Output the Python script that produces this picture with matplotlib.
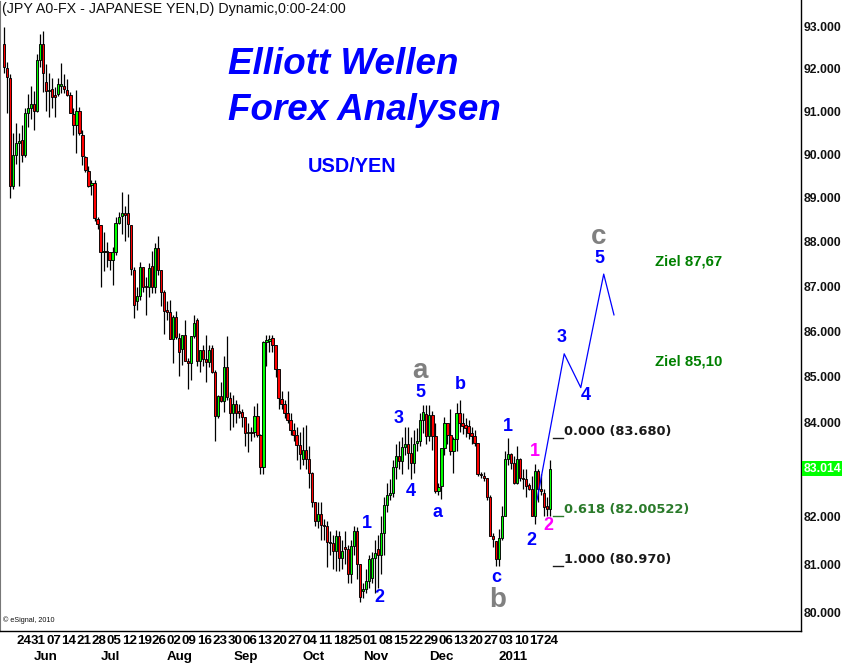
import numpy as np
import matplotlib
matplotlib.use('Agg')
import matplotlib.pyplot as plt
from matplotlib.transforms import blended_transform_factory

# ---------------- data (USD/JPY daily) ----------------
opens = [92.58, 92.02, 91.78, 89.26, 89.99, 90.27, 90.32, 89.99, 90.95, 91.07,
         91.16, 91.01, 92.21, 92.58, 91.69, 91.47, 91.52, 91.39, 91.40, 91.60,
         91.60, 91.51, 91.39, 90.93, 90.69, 91.00, 90.45, 89.94, 89.62, 89.30,
         89.34, 88.51, 88.38, 87.76, 87.78, 87.76, 87.58, 87.76, 88.43, 88.59,
         88.64, 88.66, 88.38, 87.36, 86.66, 86.78, 87.42, 87.01, 86.97, 87.45,
         86.97, 87.85, 87.36, 86.86, 86.46, 86.42, 85.83, 86.32, 85.85, 85.60,
         85.92, 85.35, 85.29, 85.89, 86.25, 85.35, 85.58, 85.38, 85.32, 85.62,
         85.11, 84.14, 84.58, 84.47, 85.20, 84.53, 84.21, 84.40, 84.25, 84.22,
         84.12, 83.77, 83.80, 83.80, 84.14, 83.74, 83.04, 85.76, 85.78, 85.85,
         85.70, 85.16, 84.51, 84.40, 84.21, 84.05, 83.85, 83.74, 83.51, 83.21,
         83.41, 83.21, 82.93, 82.30, 81.90, 82.06, 81.82, 81.80, 81.47, 81.45,
         81.28, 81.59, 81.12, 81.35, 81.31, 80.79, 81.38, 81.69, 81.00, 80.44,
         80.48, 80.65, 80.72, 81.12, 81.31, 81.19, 81.66, 82.25, 82.46, 82.50,
         83.05, 83.28, 83.17, 83.47, 83.53, 83.34, 83.14, 83.56, 83.60, 84.05,
         84.19, 83.71, 84.17, 83.71, 82.54, 82.65, 83.45, 83.99, 83.74, 83.40,
         83.64, 84.21, 83.99, 83.95, 83.92, 83.78, 83.71, 83.56, 82.90, 82.86,
         82.82, 82.40, 81.59, 81.49, 81.10, 81.54, 82.01, 83.22, 83.32, 83.14,
         82.71, 83.21, 82.82, 82.79, 82.66, 82.58, 82.01, 82.96, 82.58, 82.50,
         82.22, 82.16]
highs = [92.99, 92.15, 91.87, 90.50, 90.72, 90.50, 90.67, 91.08, 91.40, 91.60,
         91.47, 92.36, 92.82, 92.90, 92.11, 91.90, 91.79, 91.56, 91.77, 92.13,
         91.88, 91.75, 91.44, 91.07, 91.49, 91.10, 90.56, 89.97, 89.72, 89.40,
         89.40, 88.55, 88.38, 88.22, 87.99, 87.76, 87.88, 88.55, 88.67, 89.14,
         88.82, 89.09, 88.38, 87.42, 86.98, 87.55, 87.42, 87.21, 87.51, 87.80,
         87.98, 88.12, 87.36, 86.91, 86.66, 86.69, 86.36, 86.45, 85.96, 85.92,
         86.25, 85.40, 85.89, 86.36, 86.29, 85.58, 85.69, 85.92, 85.70, 85.70,
         85.15, 84.60, 84.88, 85.46, 85.90, 84.66, 84.60, 84.50, 84.40, 84.30,
         84.12, 84.00, 83.90, 84.36, 84.42, 83.75, 85.78, 85.92, 85.92, 85.92,
         85.70, 85.16, 84.68, 84.50, 84.68, 84.20, 84.00, 83.90, 83.80, 83.90,
         83.95, 83.50, 82.95, 82.30, 82.30, 82.30, 81.95, 81.90, 81.70, 81.60,
         81.72, 81.70, 81.50, 81.70, 81.40, 81.50, 81.80, 81.78, 81.00, 80.60,
         80.90, 81.20, 81.25, 81.50, 81.60, 82.00, 82.40, 82.70, 82.80, 83.20,
         83.55, 83.60, 83.70, 83.90, 83.90, 83.70, 83.85, 83.89, 84.21, 84.38,
         84.38, 84.38, 84.25, 83.99, 82.70, 83.45, 84.13, 84.00, 84.30, 83.70,
         84.42, 84.49, 84.20, 84.10, 84.05, 83.90, 83.85, 83.56, 82.95, 82.95,
         82.82, 82.45, 81.65, 81.49, 81.73, 82.22, 83.39, 83.67, 83.35, 83.28,
         83.49, 83.25, 83.00, 83.00, 82.70, 82.86, 83.11, 83.00, 82.90, 82.58,
         82.40, 83.20]
lows = [91.91, 90.96, 88.99, 89.20, 89.77, 89.26, 89.82, 89.94, 90.63, 90.83,
        90.56, 90.98, 92.03, 91.44, 91.00, 90.87, 91.07, 90.87, 91.36, 91.42,
        91.42, 91.36, 90.95, 90.44, 90.02, 90.44, 89.75, 89.60, 89.25, 89.07,
        88.48, 88.28, 86.97, 87.35, 87.44, 87.36, 87.02, 87.70, 88.40, 88.17,
        88.02, 88.10, 87.25, 86.29, 86.47, 86.69, 86.87, 86.36, 86.76, 86.84,
        86.84, 87.25, 86.56, 85.94, 86.25, 85.83, 85.30, 85.83, 85.02, 85.26,
        85.35, 84.74, 84.93, 85.85, 85.23, 85.10, 85.24, 84.89, 85.20, 85.07,
        83.60, 84.10, 84.45, 84.24, 84.50, 83.84, 83.90, 84.00, 84.10, 83.90,
        83.50, 83.36, 83.60, 83.70, 83.70, 82.90, 82.90, 85.23, 85.53, 85.53,
        85.00, 84.29, 84.29, 84.10, 84.00, 83.74, 83.60, 83.20, 83.00, 83.10,
        83.00, 82.60, 82.20, 81.80, 81.75, 81.50, 81.50, 80.95, 81.20, 80.90,
        80.85, 80.85, 80.90, 81.00, 80.60, 80.60, 81.20, 80.70, 80.22, 80.30,
        80.40, 80.50, 80.60, 80.40, 80.50, 80.80, 81.20, 82.10, 82.35, 82.40,
        82.80, 83.00, 82.90, 83.30, 83.00, 82.80, 82.93, 83.39, 83.50, 83.78,
        83.53, 83.60, 83.41, 82.50, 82.45, 82.36, 83.30, 83.55, 83.30, 82.93,
        83.40, 83.80, 83.75, 83.70, 83.64, 83.55, 83.50, 82.85, 82.82, 82.75,
        82.35, 81.59, 81.35, 80.97, 80.97, 81.50, 82.00, 83.10, 83.00, 82.68,
        82.68, 82.75, 82.58, 82.40, 82.55, 82.01, 81.84, 82.30, 82.45, 82.01,
        82.01, 82.01]
closes = [92.03, 91.80, 89.26, 89.99, 90.27, 90.30, 89.99, 90.95, 91.07, 91.16,
          91.01, 92.21, 92.58, 91.90, 91.47, 91.51, 91.34, 91.34, 91.63, 91.63,
          91.52, 91.39, 90.95, 90.69, 91.00, 90.50, 89.95, 89.63, 89.26, 89.34,
          88.54, 88.40, 87.76, 87.78, 87.76, 87.58, 87.76, 88.43, 88.55, 88.64,
          88.61, 88.40, 87.38, 86.57, 86.77, 87.42, 86.97, 86.97, 87.40, 86.97,
          87.85, 87.36, 86.87, 86.45, 86.42, 85.83, 86.32, 85.87, 85.53, 85.92,
          85.35, 85.29, 85.89, 86.17, 85.35, 85.58, 85.38, 85.32, 85.58, 85.11,
          84.14, 84.58, 84.47, 85.20, 84.55, 84.21, 84.40, 84.21, 84.20, 84.12,
          83.77, 83.80, 83.78, 84.14, 83.74, 83.04, 85.76, 85.80, 85.83, 85.70,
          85.17, 84.53, 84.40, 84.21, 84.05, 83.84, 83.74, 83.51, 83.32, 83.41,
          83.21, 82.93, 82.30, 81.90, 82.06, 81.82, 81.80, 81.47, 81.45, 81.28,
          81.59, 81.12, 81.28, 81.31, 80.79, 81.38, 81.69, 81.00, 80.31, 80.48,
          80.65, 81.10, 81.12, 81.24, 81.19, 81.66, 82.25, 82.46, 82.50, 83.05,
          83.28, 83.17, 83.47, 83.53, 83.34, 83.14, 83.53, 83.60, 84.05, 84.22,
          83.71, 84.17, 83.71, 82.54, 82.63, 83.45, 83.99, 83.74, 83.40, 83.64,
          84.21, 83.99, 83.92, 83.88, 83.78, 83.71, 83.56, 82.90, 82.88, 82.82,
          82.40, 81.59, 81.52, 81.10, 81.54, 82.01, 83.22, 83.32, 83.14, 82.71,
          83.21, 82.82, 82.79, 82.65, 82.58, 82.01, 82.96, 82.58, 82.54, 82.19,
          82.16, 83.01]

week_labels = ["24", "31", "07", "14", "21", "28", "05", "12", "19", "26", "02", "09",
               "16", "23", "30", "06", "13", "20", "27", "04", "11", "18", "25", "01",
               "08", "15", "22", "29", "06", "13", "20", "27", "03", "10", "17", "24"]
week_index = [4 + 5 * k for k in range(len(week_labels))]
month_labels = ["Jun", "Jul", "Aug", "Sep", "Oct", "Nov", "Dec", "2011"]
month_index = [10, 32, 54, 76, 99, 119, 141, 164]
price_ticks = [80, 81, 82, 84, 85, 86, 87, 88, 89, 90, 91, 92, 93]
last_price = 83.014

# projected Elliott path
proj_x = [176.7, 185.7, 191.2, 198.8, 202.2]
proj_y = [82.35, 85.5, 84.76, 87.27, 86.36]

fib_levels = [83.680, 82.00522, 80.970]
fib_texts = ["0.000 (83.680)", "0.618 (82.00522)", "1.000 (80.970)"]
fib_colors = ["#1a1a1a", "#2a7a2a", "#1a1a1a"]

# wave labels: (text, x index, price, color, size)
wave_labels = [
    ("1", 120.3, 81.85, "#0000FF", 13), ("2", 124.3, 80.30, "#0000FF", 13),
    ("3", 130.9, 84.09, "#0000FF", 13), ("4", 134.9, 82.53, "#0000FF", 13),
    ("5", 138.2, 84.65, "#0000FF", 13), ("a", 137.9, 85.13, "#808080", 20),
    ("a", 143.8, 82.09, "#0000FF", 13), ("b", 151.1, 84.83, "#0000FF", 13),
    ("1", 167.1, 83.92, "#0000FF", 13), ("2", 174.7, 81.49, "#0000FF", 13),
    ("c", 163.1, 80.73, "#0000FF", 13), ("b", 163.7, 80.26, "#808080", 20),
    ("1", 176.0, 83.38, "#FF00FF", 13), ("2", 180.3, 81.81, "#FF00FF", 13),
    ("3", 185.0, 85.86, "#0000FF", 13), ("4", 192.9, 84.58, "#0000FF", 13),
    ("5", 197.5, 87.63, "#0000FF", 13), ("c", 197.2, 88.10, "#808080", 20),
]

# ---------------- figure ----------------
W, H = 842, 664
fig = plt.figure(figsize=(W / 100, H / 100), dpi=100)
fig.patch.set_facecolor("white")
ax = fig.add_axes([0, (H - 631) / H, 801 / W, 631 / H])
ax.set_facecolor("white")

o = np.array(opens); h = np.array(highs); l = np.array(lows); c = np.array(closes)
x = np.arange(len(o))
up = c >= o
cols = np.where(up, "#00FF00", "#FF0000")

ax.vlines(x, l, h, color="black", linewidth=0.9, zorder=2)
bottoms = np.minimum(o, c)
heights = np.maximum(np.abs(c - o), 0.012)
ax.bar(x, heights, bottom=bottoms, width=0.75, color=cols, edgecolor="black",
       linewidth=0.65, zorder=3)

ax.set_yscale("log")
ax.set_ylim(79.62, 93.64)
ax.set_xlim(-1.33, 264.2)

# right price axis
ax.yaxis.tick_right()
ax.minorticks_off()
ax.set_yticks(price_ticks)
ax.set_yticklabels([f"{p:.3f}" for p in price_ticks], fontsize=8.8,
                   fontweight="bold", family="Liberation Sans", color="#111111")
ax.yaxis.set_minor_locator(matplotlib.ticker.NullLocator())
ax.tick_params(axis="y", length=0, pad=2)

ax.set_xticks(week_index)
ax.set_xticklabels(week_labels, fontsize=9.6, fontweight="bold",
                   family="Liberation Sans", ha="left")
ax.tick_params(axis="x", length=0, pad=3)

trans = blended_transform_factory(ax.transData, ax.transAxes)
for lab, idx in zip(month_labels, month_index):
    ax.text(idx, -0.041, lab, transform=trans, ha="left", va="center",
            fontsize=9.6, fontweight="bold", family="Liberation Sans")

# spines
ax.spines["top"].set_visible(False)
ax.spines["left"].set_color("#777777")
ax.spines["left"].set_linestyle((0, (1, 1)))
ax.spines["right"].set_color("black")
ax.spines["bottom"].set_color("black")
ax.spines["right"].set_linewidth(1.0)
ax.spines["bottom"].set_linewidth(1.0)

# last price marker
ax.annotate(f"{last_price:.3f}", xy=(1.0, last_price),
            xycoords=("axes fraction", "data"), xytext=(2, 0),
            textcoords="offset points", ha="left", va="center",
            fontsize=8.8, fontweight="bold", family="Liberation Sans", color="white",
            bbox=dict(boxstyle="square,pad=0.12", facecolor="#00FF00", edgecolor="none"),
            annotation_clip=False)

# projected path
ax.plot(proj_x, proj_y, color="#0000FF", linewidth=0.9, zorder=4)

# fib levels
for lev, txt, col in zip(fib_levels, fib_texts, fib_colors):
    ax.plot([181.9, 185.2], [lev, lev], color=col, linewidth=1.0, zorder=4)
    ax.text(185.8, lev, txt, ha="left", va="bottom", fontsize=9.4,
            fontweight="bold", family="DejaVu Sans", color=col)

# wave labels
for txt, xi, pr, col, sz in wave_labels:
    ax.text(xi, pr, txt, ha="center", va="center", fontsize=sz, fontweight="bold",
            family="Liberation Sans", color=col, zorder=5)

# targets
ax.text(215.8, 87.55, "Ziel 87,67", ha="left", va="center", fontsize=10.8,
        fontweight="bold", family="Liberation Sans", color="#008000")
ax.text(215.8, 85.33, "Ziel 85,10", ha="left", va="center", fontsize=10.8,
        fontweight="bold", family="Liberation Sans", color="#008000")

# titles
fig.text(228 / W, 1 - 65 / H, "Elliott Wellen", ha="left", va="center", fontsize=26.5,
         fontweight="bold", fontstyle="italic", family="Liberation Sans", color="#0000FF")
fig.text(228 / W, 1 - 110 / H, "Forex Analysen", ha="left", va="center", fontsize=26.5,
         fontweight="bold", fontstyle="italic", family="Liberation Sans", color="#0000FF")
fig.text(308 / W, 1 - 166 / H, "USD/YEN", ha="left", va="center", fontsize=14.3,
         fontweight="bold", family="Liberation Sans", color="#0000FF")
fig.text(2 / W, 1 - 9 / H, "(JPY A0-FX - JAPANESE YEN,D) Dynamic,0:00-24:00",
         ha="left", va="center", fontsize=10.3, family="Liberation Sans", color="#111111")
fig.text(3 / W, 1 - 620 / H, "\u00a9 eSignal, 2010", ha="left", va="center",
         fontsize=5.2, family="Liberation Sans", color="#111111")

fig.savefig("out.png", dpi=100, facecolor="white")
